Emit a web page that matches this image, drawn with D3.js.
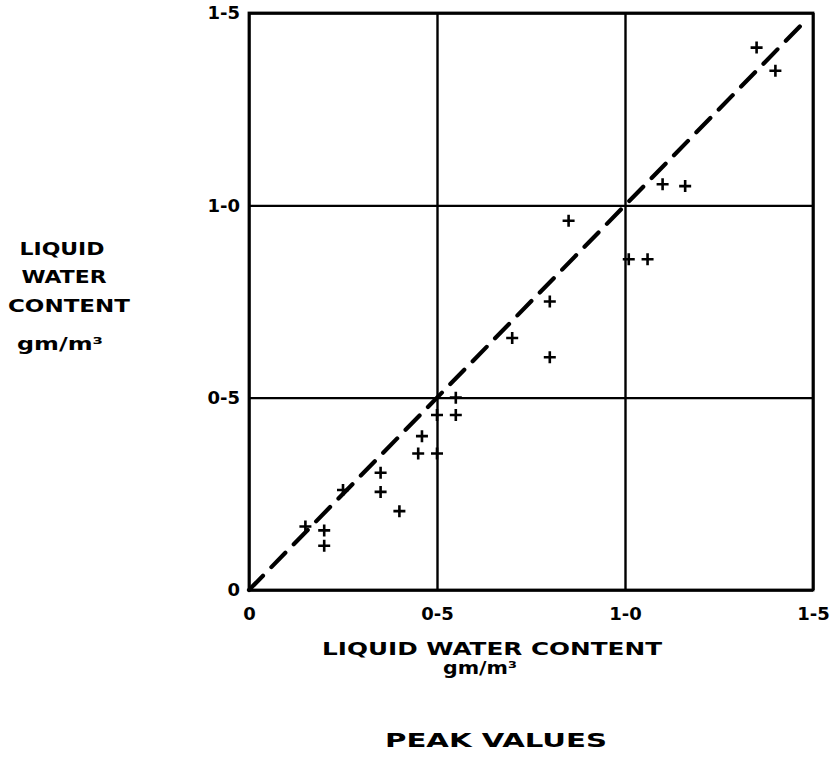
<!DOCTYPE html>
<html>
<head>
<meta charset="utf-8">
<script src="https://cdn.jsdelivr.net/npm/d3@7"></script>
<style>
  html, body { margin: 0; padding: 0; background: #fff; }
  svg { display: block; }
  text { font-family: "DejaVu Sans", sans-serif; fill: #000; }
</style>
</head>
<body>
<svg id="chart" width="836" height="764"></svg>
<script>
// ---- data ----
const tickValues = [0, 0.5, 1.0, 1.5];
const tickLabels = ["0", "0-5", "1-0", "1-5"];
const peakX = [0.15, 0.20, 0.20, 0.25, 0.35, 0.35, 0.40, 0.46, 0.45, 0.50, 0.50, 0.55, 0.55,
               0.70, 0.80, 0.80, 0.85, 1.01, 1.06, 1.10, 1.16, 1.35, 1.40];
const peakY = [0.165, 0.155, 0.115, 0.26, 0.305, 0.255, 0.205, 0.40, 0.355, 0.355, 0.455, 0.455, 0.50,
               0.655, 0.75, 0.605, 0.96, 0.86, 0.86, 1.055, 1.05, 1.41, 1.35];
const lineX = [0, 1.48];
const lineY = [0, 1.48];
const yLabelLines = ["LIQUID", "WATER", "CONTENT", "gm/m³"];
const xLabelLines = ["LIQUID WATER CONTENT", "gm/m³"];
const footLabel = "PEAK VALUES";

// ---- layout ----
const svg = d3.select("#chart");
const L = 249, R = 813, T = 13, B = 590;
const x = d3.scaleLinear().domain([0, 1.5]).range([L, R]);
const y = d3.scaleLinear().domain([0, 1.5]).range([B, T]);
const fmt = d => tickLabels[tickValues.indexOf(d)];

// grid + axes
const xAxis = d3.axisBottom(x).tickValues(tickValues).tickFormat(fmt)
  .tickSizeInner(-(B - T)).tickSizeOuter(0).tickPadding(17);
const yAxis = d3.axisLeft(y).tickValues(tickValues).tickFormat(fmt)
  .tickSizeInner(-(R - L)).tickSizeOuter(0).tickPadding(9);

const gx = svg.append("g").attr("transform", `translate(0,${B})`).call(xAxis);
const gy = svg.append("g").attr("transform", `translate(${L},0)`).call(yAxis);
[gx, gy].forEach(g => {
  g.select(".domain").remove();
  g.selectAll(".tick line").attr("stroke", "#000").attr("stroke-width", 2.4);
  g.selectAll(".tick text").style("font-size", "18px").style("font-weight", "bold")
    .style("font-family", "'DejaVu Sans', sans-serif").attr("fill", "#000");
});

// frame
svg.append("rect").attr("x", x(0)).attr("y", y(1.5))
  .attr("width", x(1.5) - x(0)).attr("height", y(0) - y(1.5))
  .attr("fill", "none").attr("stroke", "#000").attr("stroke-width", 2.8);

// dashed line
const pts = lineX.map((v, i) => [v, lineY[i]]);
svg.append("path")
  .attr("d", d3.line().x(d => x(d[0])).y(d => y(d[1]))(pts))
  .attr("fill", "none").attr("stroke", "#000").attr("stroke-width", 4.2)
  .attr("stroke-linecap", "round").attr("stroke-dasharray", "20,12");

// crosses
const data = peakX.map((v, i) => ({x: v, y: peakY[i]}));
const cs = 6;
const g = svg.append("g").attr("stroke", "#000").attr("stroke-width", 2.6);
g.selectAll("path.cross").data(data).join("path")
  .attr("class", "cross")
  .attr("d", d => {
    const cx = x(d.x), cy = y(d.y);
    return `M${cx - cs},${cy}H${cx + cs}M${cx},${cy - cs}V${cy + cs}`;
  });

// y label block
const yLab = [
  {t: yLabelLines[0], cx: 62, base: 255, w: 85},
  {t: yLabelLines[1], cx: 64, base: 283, w: 85},
  {t: yLabelLines[2], cx: 69, base: 312, w: 122},
  {t: yLabelLines[3], cx: 60, base: 350, w: 86}
];
svg.selectAll("text.ylab").data(yLab).join("text")
  .attr("class", "ylab")
  .attr("x", d => d.cx - d.w / 2).attr("y", d => d.base)
  .attr("textLength", d => d.w).attr("lengthAdjust", "spacingAndGlyphs")
  .style("font-size", "17px").style("font-weight", "bold")
  .text(d => d.t);

// x label block
svg.append("text").attr("x", 322).attr("y", 655)
  .attr("textLength", 340).attr("lengthAdjust", "spacingAndGlyphs")
  .style("font-size", "17px").style("font-weight", "bold")
  .text(xLabelLines[0]);
svg.append("text").attr("x", 443).attr("y", 674)
  .attr("textLength", 74).attr("lengthAdjust", "spacingAndGlyphs")
  .style("font-size", "17px").style("font-weight", "bold")
  .text(xLabelLines[1]);
svg.append("text").attr("x", 385).attr("y", 747)
  .attr("textLength", 222).attr("lengthAdjust", "spacingAndGlyphs")
  .style("font-size", "20px").style("font-weight", "bold")
  .text(footLabel);
</script>
</body>
</html>
